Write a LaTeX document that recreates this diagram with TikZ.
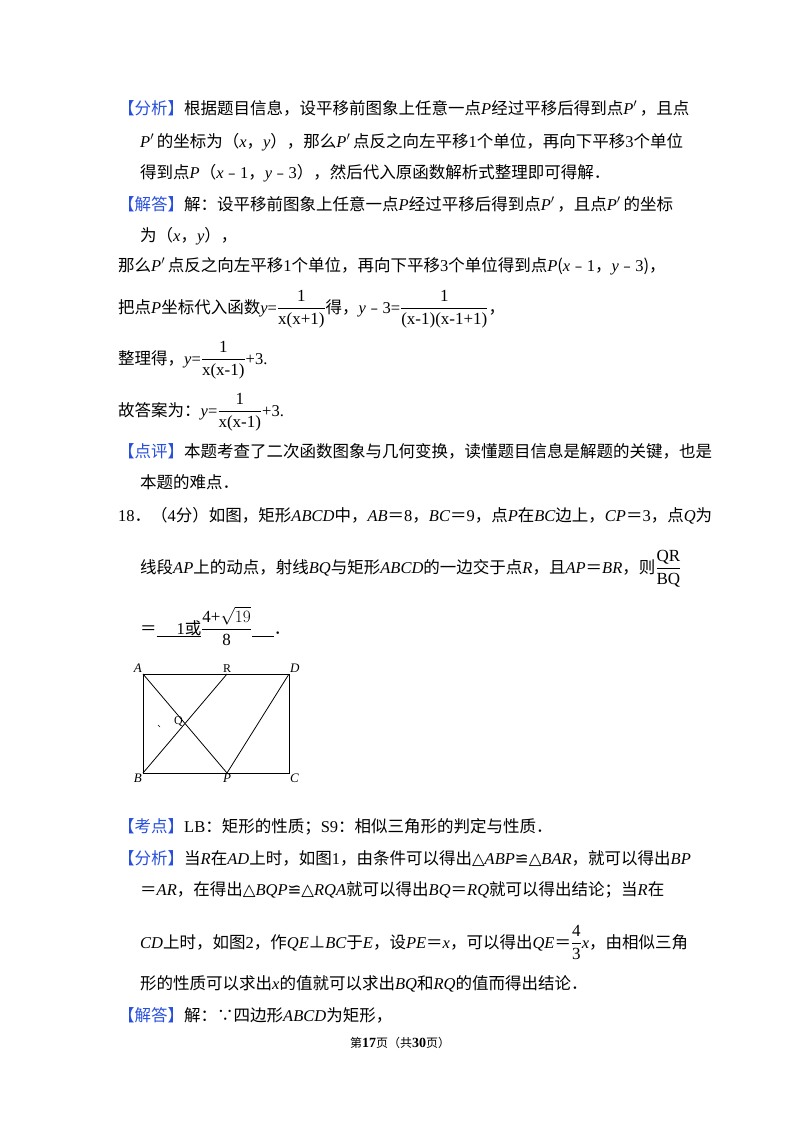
\documentclass[tikz,border=0pt]{standalone}
\usepackage{amsmath}
\usepackage{fontspec}
\setmainfont{Liberation Serif}
\newfontfamily\cjk{Noto Sans CJK SC}
\newfontfamily\djv{DejaVu Sans}
\definecolor{tag}{RGB}{40,80,220}
\newcommand{\m}[1]{{\rmfamily\itshape #1}}
\newcommand{\n}[1]{{\rmfamily #1}}
\newcommand{\tg}[1]{{\color{tag}【#1】}}
\newcommand{\fr}[2]{$\dfrac{\hbox{\rmfamily\fontsize{17}{18}\selectfont #1}}{\hbox{\rmfamily\fontsize{17}{18}\selectfont #2}}$}
\newcommand{\ul}[1]{\rlap{\rule[-3pt]{#1}{0.8pt}}}
\begin{document}
\begin{tikzpicture}[x=1pt,y=1pt,
  ln/.style={anchor=base west,inner sep=0pt,font=\cjk\fontsize{16.5}{18}\selectfont},
  lab/.style={inner sep=1pt,font=\rmfamily\itshape\fontsize{13}{14}\selectfont}]
\useasboundingbox (0,0) rectangle (800,-1132);
\fill[white] (0,0) rectangle (800,-1132);
\node[ln] (l1) at (118,-114) {\tg{分析}根据题目信息，设平移前图象上任意一点\m{P}经过平移后得到点\m{P}$'$\,，且点};
\node[ln] (l2) at (140,-147) {\m{P}$'$\,的坐标为（\m{x}，\m{y}），那么\m{P}$'$\,点反之向左平移\n{1}个单位，再向下平移\n{3}个单位};
\node[ln] (l3) at (140,-178) {得到点\m{P}（\m{x}﹣\n{1}，\m{y}﹣\n{3}），然后代入原函数解析式整理即可得解．};
\node[ln] (l4) at (118,-210) {\tg{解答}解：设平移前图象上任意一点\m{P}经过平移后得到点\m{P}$'$\,，且点\m{P}$'$\,的坐标};
\node[ln] (l5) at (140,-241) {为（\m{x}，\m{y}），};
\node[ln] (l6) at (118,-271) {那么\m{P}$'$\,点反之向左平移\n{1}个单位，再向下平移\n{3}个单位得到点\m{P}(\m{x}﹣\n{1}，\m{y}﹣\n{3})，};
\node[ln] (l7) at (118,-313) {把点\m{P}坐标代入函数\m{y}\n{=}\fr{1}{x(x+1)}得，\m{y}﹣\n{3=}\fr{1}{(x-1)(x-1+1)}，};
\node[ln] (l8) at (118,-364) {整理得，\m{y}\n{=}\fr{1}{x(x-1)}\n{+3.}};
\node[ln] (l9) at (118,-416) {故答案为：\m{y}\n{=}\fr{1}{x(x-1)}\n{+3.}};
\node[ln] (l10) at (118,-457) {\tg{点评}本题考查了二次函数图象与几何变换，读懂题目信息是解题的关键，也是};
\node[ln] (l11) at (140,-488) {本题的难点．};
\node[ln] (l12) at (118,-521) {\n{18}．（\n{4}分）如图，矩形\m{ABCD}中，\m{AB}＝\n{8}，\m{BC}＝\n{9}，点\m{P}在\m{BC}边上，\m{CP}＝\n{3}，点\m{Q}为};
\node[ln] (l13) at (140,-573) {线段\m{AP}上的动点，射线\m{BQ}与矩形\m{ABCD}的一边交于点\m{R}，且\m{AP}＝\m{BR}，则\fr{QR}{BQ}};
\node[ln] (l14) at (140,-634) {＝\ul{44pt}\hspace{1.2em}\n{1}或\fr{4+$\sqrt{19}$}{8}\ul{22pt}\hspace{22pt}．};
% figure
\coordinate (A) at (143,-674); \coordinate (D) at (289,-674);
\coordinate (B) at (143,-773); \coordinate (C) at (289,-773);
\coordinate (P) at (227,-773); \coordinate (R) at (227,-674);
\draw[line width=1pt] (A) rectangle (C);
\draw[line width=0.8pt] (A) -- (P) -- (D) (B) -- (R);
\coordinate (Q) at (intersection of A--P and B--R);
\node[lab,anchor=south east] (a) at (A) {A};
\node[lab,anchor=south west] (d) at (D) {D};
\node[lab,anchor=north east] (b) at (B) {B};
\node[lab,anchor=north west] (c) at (C) {C};
\node[lab,anchor=north] (p) at (P) {P};
\node[lab,anchor=south,font=\rmfamily\fontsize{12}{13}\selectfont] (r) at (R) {R};
\node[lab,anchor=east,font=\rmfamily\fontsize{12}{13}\selectfont] (q) at ([xshift=-1pt,yshift=2pt]Q) {Q};
\draw[line width=0.6pt] (158,-725) -- (160,-727);
\node[ln] (l15) at (118,-832) {\tg{考点}\n{LB}：矩形的性质；\n{S9}：相似三角形的判定与性质．};
\node[ln] (l16) at (118,-864) {\tg{分析}当\m{R}在\m{AD}上时，如图\n{1}，由条件可以得出{\djv △}\m{ABP}{\djv ≌}{\djv △}\m{BAR}，就可以得出\m{BP}};
\node[ln] (l17) at (140,-895) {＝\m{AR}，在得出{\djv △}\m{BQP}{\djv ≌}{\djv △}\m{RQA}就可以得出\m{BQ}＝\m{RQ}就可以得出结论；当\m{R}在};
\node[ln] (l18) at (140,-948) {\m{CD}上时，如图\n{2}，作\m{QE}⊥\m{BC}于\m{E}，设\m{PE}＝\m{x}，可以得出\m{QE}＝\fr{4}{3}\m{x}，由相似三角};
\node[ln] (l19) at (140,-989) {形的性质可以求出\m{x}的值就可以求出\m{BQ}和\m{RQ}的值而得出结论．};
\node[ln] (l20) at (118,-1021) {\tg{解答}解：∵四边形\m{ABCD}为矩形，};
\node[anchor=base,inner sep=0pt,font=\cjk\fontsize{12}{14}\selectfont] (ft) at (400,-1047) {第{\bfseries\rmfamily\fontsize{14}{14}\selectfont 17}页（共{\bfseries\rmfamily\fontsize{14}{14}\selectfont 30}页）};
\end{tikzpicture}
\end{document}
